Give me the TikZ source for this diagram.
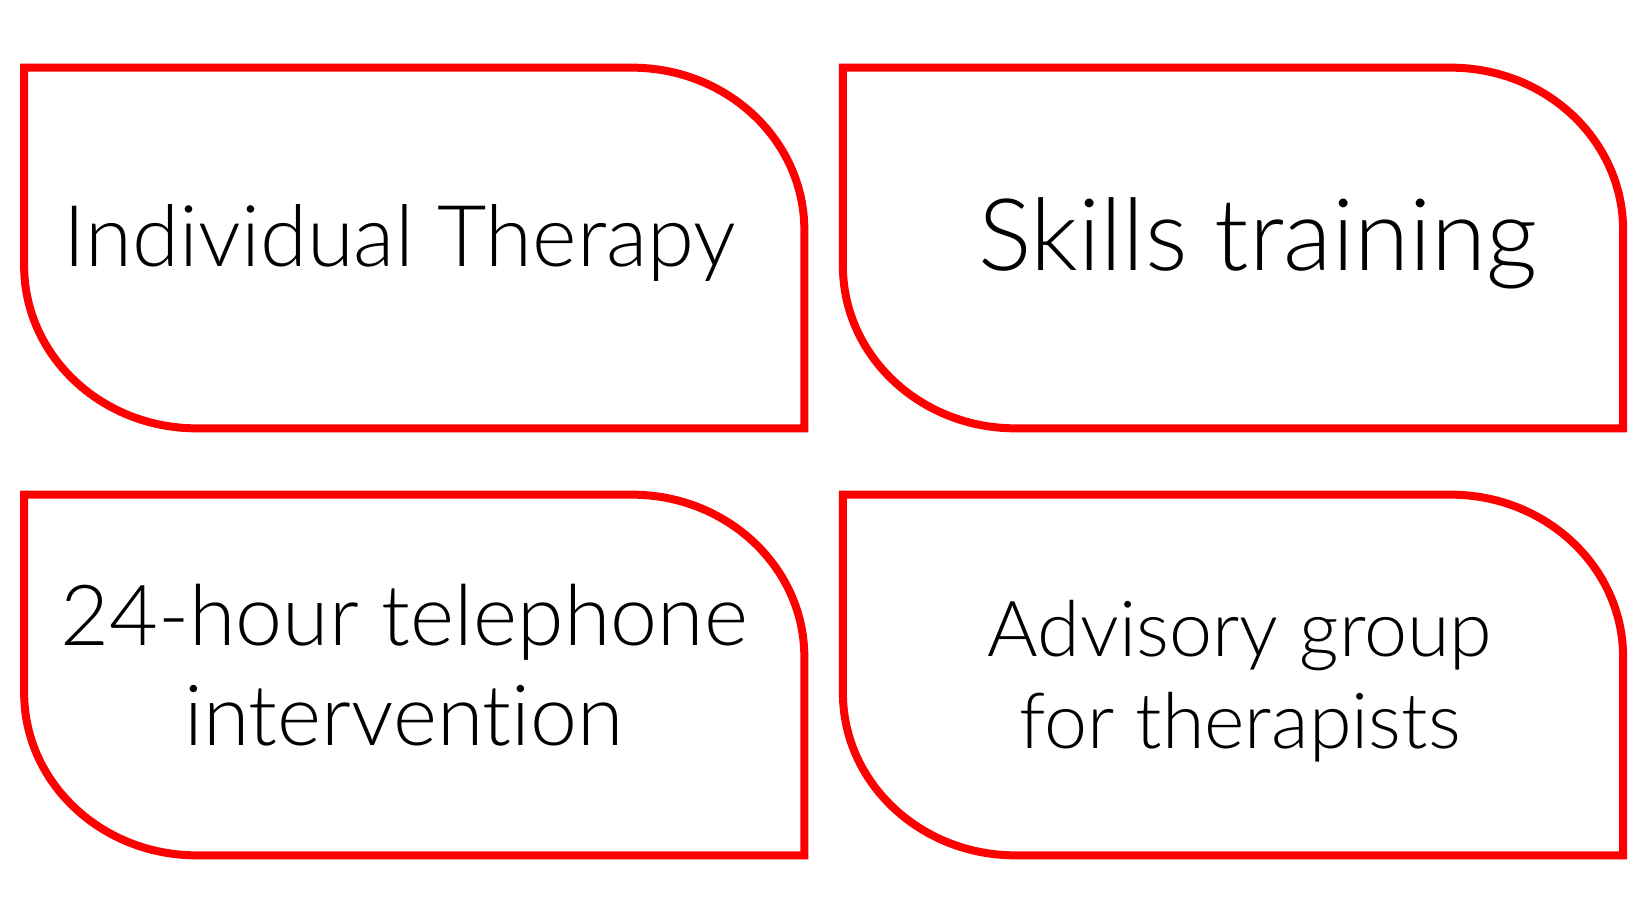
\documentclass[tikz,border=0pt]{standalone}
\usepackage{fontspec}
\setmainfont{Lato}[UprightFont={* Light}, Ligatures=NoCommon]
\usetikzlibrary{positioning, calc}

\begin{document}
\begin{tikzpicture}[
    % Define styles
    card/.style={
        draw=none,
        inner sep=0pt,
        minimum width=15.59cm,
        minimum height=7.2cm
    },
    frame/.style={
        draw=red,
        line width=0.16cm
    },
    cardtext/.style={
        font=\fontsize{#1}{1.18\dimexpr#1pt\relax}\selectfont,
        anchor=base,
        align=center,
        text=black
    }
]
\useasboundingbox (0,0) rectangle (33,18);

% ============================================================
% Top row
% ============================================================
\node[card] (individual) at (8.285, 13.04) {};
\node[card] (skills) at (24.66, 13.04) {};

% ============================================================
% Bottom row
% ============================================================
\node[card] (telephone) at (8.285, 4.5) {};
\node[card] (advisory) at (24.66, 4.5) {};

% ============================================================
% Frames (round top right and bottom left corners)
% ============================================================
\draw[frame] (individual.north west) -- ([xshift=-3.45cm]individual.north east)
    arc[start angle=90, end angle=0, x radius=3.45cm, y radius=3.25cm]
    -- (individual.south east) -- ([xshift=3.45cm]individual.south west)
    arc[start angle=270, end angle=180, x radius=3.45cm, y radius=3.25cm] -- cycle;
\draw[frame] (skills.north west) -- ([xshift=-3.45cm]skills.north east)
    arc[start angle=90, end angle=0, x radius=3.45cm, y radius=3.25cm]
    -- (skills.south east) -- ([xshift=3.45cm]skills.south west)
    arc[start angle=270, end angle=180, x radius=3.45cm, y radius=3.25cm] -- cycle;
\draw[frame] (telephone.north west) -- ([xshift=-3.45cm]telephone.north east)
    arc[start angle=90, end angle=0, x radius=3.45cm, y radius=3.25cm]
    -- (telephone.south east) -- ([xshift=3.45cm]telephone.south west)
    arc[start angle=270, end angle=180, x radius=3.45cm, y radius=3.25cm] -- cycle;
\draw[frame] (advisory.north west) -- ([xshift=-3.45cm]advisory.north east)
    arc[start angle=90, end angle=0, x radius=3.45cm, y radius=3.25cm]
    -- (advisory.south east) -- ([xshift=3.45cm]advisory.south west)
    arc[start angle=270, end angle=180, x radius=3.45cm, y radius=3.25cm] -- cycle;

% ============================================================
% Labels
% ============================================================
\node[cardtext=48.5] (individual_label) at (8.0, 12.68) {Individual Therapy};
\node[cardtext=57] (skills_label) at (25.16, 12.58) {Skills training};
\node[cardtext=48] (telephone_label) at (8.08, 3.1) {24-hour telephone\\intervention};
\node[cardtext=44] (advisory_label) at (24.8, 3.04) {Advisory group\\for therapists};

\end{tikzpicture}
\end{document}
